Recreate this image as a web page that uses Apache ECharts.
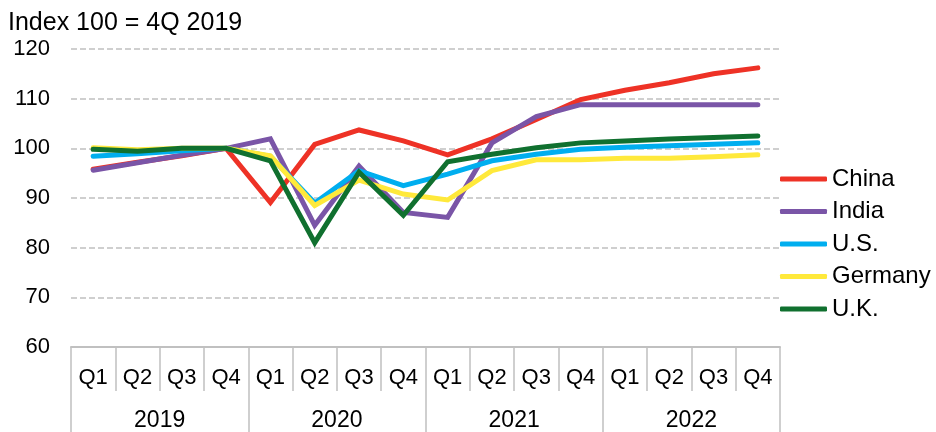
<!DOCTYPE html>
<html>
<head>
<meta charset="utf-8">
<script src="https://cdn.jsdelivr.net/npm/echarts@6/dist/echarts.min.js"></script>
<style>
  html, body { margin: 0; padding: 0; background: #fff; }
  #main { width: 936px; height: 432px; }
</style>
</head>
<body>
<div id="main"></div>
<script>
const quarters = ["Q1", "Q2", "Q3", "Q4", "Q1", "Q2", "Q3", "Q4", "Q1", "Q2", "Q3", "Q4", "Q1", "Q2", "Q3", "Q4"];
const years = ["2019", "2020", "2021", "2022"];

const china   = [95.8, 97.2, 98.5, 100, 89.1, 100.8, 103.7, 101.5, 98.7, 101.9, 105.8, 109.8, 111.7, 113.2, 115.0, 116.2];
const india   = [95.6, 97.1, 98.6, 100, 101.9, 84.5, 96.4, 87.1, 86.1, 101.1, 106.4, 108.8, 108.8, 108.8, 108.8, 108.8];
const us      = [98.4, 98.9, 99.5, 100, 98.4, 89.0, 95.5, 92.5, 94.8, 97.5, 98.8, 99.8, 100.2, 100.5, 100.8, 101.1];
const germany = [100.1, 99.7, 100.0, 100, 98.5, 88.5, 93.6, 90.8, 89.6, 95.5, 97.7, 97.7, 98.0, 98.0, 98.3, 98.7];
const uk      = [99.8, 99.4, 100.0, 100, 97.5, 81.0, 95.2, 86.5, 97.3, 98.8, 100.1, 101.1, 101.5, 101.9, 102.2, 102.5];

const seriesDefs = [
  { name: "China", data: china, color: "#EE3226" },
  { name: "India", data: india, color: "#7A55A7" },
  { name: "U.S.", data: us, color: "#00AEEF" },
  { name: "Germany", data: germany, color: "#FFE93B" },
  { name: "U.K.", data: uk, color: "#10702F" }
];

const font = "'Liberation Sans', Arial, sans-serif";
const gray = "#c0c0c0";

const chart = echarts.init(document.getElementById("main"));

chart.setOption({
  animation: false,
  backgroundColor: "#fff",
  title: {
    text: "Index 100 = 4Q 2019",
    left: 8,
    top: 11,
    padding: 0,
    textStyle: { color: "#000", fontFamily: font, fontSize: 25, fontWeight: "normal" }
  },
  legend: {
    orient: "vertical",
    left: 780,
    top: 167,
    padding: 0,
    itemWidth: 47,
    itemHeight: 5,
    itemGap: 8.5,
    icon: "roundRect",
    textStyle: { color: "#000", fontFamily: font, fontSize: 24, lineHeight: 24 },
    data: seriesDefs.map(s => s.name)
  },
  grid: { left: 71, right: 156, top: 49, bottom: 83, containLabel: false },
  xAxis: [
    {
      type: "category",
      data: quarters,
      position: "bottom",
      boundaryGap: true,
      axisLine: { show: true, lineStyle: { color: gray, width: 2 } },
      axisTick: { show: true, length: 44, interval: 0, lineStyle: { color: gray, width: 1.5 } },
      axisLabel: { color: "#000", fontFamily: font, fontSize: 22, margin: 20, interval: 0 },
      splitLine: { show: false }
    },
    {
      type: "category",
      data: years,
      position: "bottom",
      boundaryGap: true,
      axisLine: { show: false },
      axisTick: { show: true, length: 90, interval: 0, lineStyle: { color: gray, width: 1.5 } },
      axisLabel: { color: "#000", fontFamily: font, fontSize: 23, margin: 62, interval: 0 },
      splitLine: { show: false }
    }
  ],
  yAxis: {
    type: "value",
    min: 60,
    max: 120,
    interval: 10,
    axisLine: { show: false },
    axisTick: { show: false },
    axisLabel: { color: "#000", fontFamily: font, fontSize: 22, margin: 21 },
    splitLine: { show: true, lineStyle: { color: gray, width: 1.5, type: [6, 3] } }
  },
  series: seriesDefs.map(s => ({
    name: s.name,
    type: "line",
    xAxisIndex: 0,
    data: s.data,
    showSymbol: false,
    symbol: "none",
    color: s.color,
    lineStyle: { color: s.color, width: 5, cap: "round", join: "miter" }
  }))
});
</script>
</body>
</html>
